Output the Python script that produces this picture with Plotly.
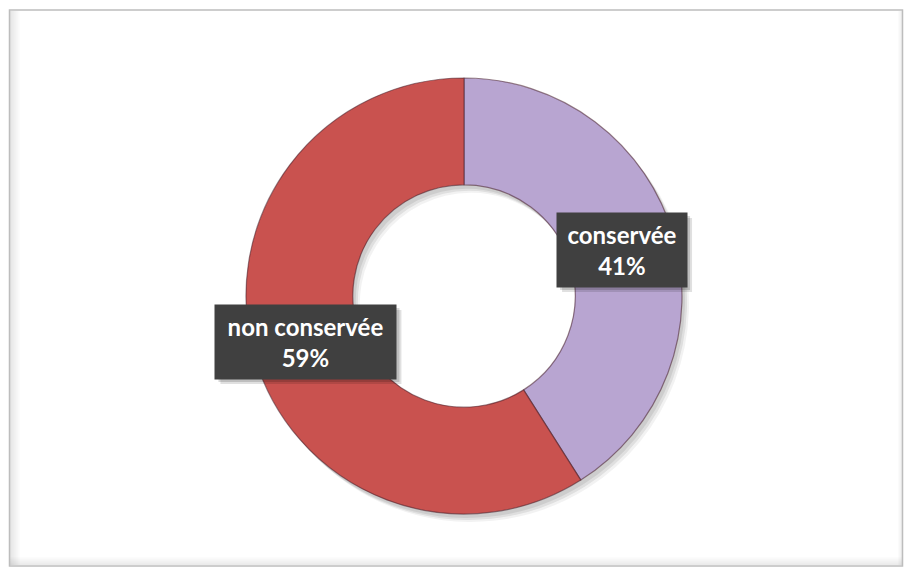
import math
import plotly.graph_objects as go

# Data
labels = ["conservée", "non conservée"]
values = [41, 59]
colors = ["#B8A5D1", "#C9524F"]

W, H = 904, 569
cx, cy, R = 464, 296, 218          # donut centre / outer radius in pixels
hole = 0.51

def px_x(x):
    return x / W

def px_y(y):
    return 1 - y / H

dom_x = [px_x(cx - R), px_x(cx + R)]
dom_y = [px_y(cy + R), px_y(cy - R)]

fig = go.Figure()

# soft drop shadow beneath the ring
for (sx, sy, a) in [(7, 8, 0.05), (5, 6, 0.08), (3, 4, 0.08)]:
    fig.add_trace(go.Pie(
        values=values, labels=labels, sort=False, direction="clockwise", rotation=0,
        hole=hole, marker=dict(colors=[f"rgba(0,0,0,{a})"] * 2, line=dict(width=0)),
        textinfo="none", hoverinfo="skip", showlegend=False,
        domain=dict(x=[px_x(cx - R + sx), px_x(cx + R + sx)],
                    y=[px_y(cy + R + sy), px_y(cy - R + sy)]),
    ))

fig.add_trace(go.Pie(
    values=values, labels=labels, sort=False, direction="clockwise", rotation=0,
    hole=hole, marker=dict(colors=colors, line=dict(color="rgba(70,30,40,0.55)", width=1.2)),
    textinfo="none", showlegend=False,
    domain=dict(x=dom_x, y=dom_y),
))

# data labels in dark boxes at the middle of each ring segment
box_w = {"conservée": 114, "non conservée": 165}
box_h = 58
pad = 8
total = sum(values)
rm = R * (1 + hole) / 2
annotations = []
shapes = []
cum = 0
for lab, v in zip(labels, values):
    mid = (cum + v / 2) / total * 2 * math.pi
    cum += v
    ax = cx + rm * math.sin(mid)
    ay = cy - rm * math.cos(mid)
    bw = box_w[lab] + 2 * pad
    bh = box_h + 2 * pad
    # box shadow
    for off, a in [(5, 0.12), (3, 0.15)]:
        shapes.append(dict(type="rect", xref="paper", yref="paper", layer="above",
                           x0=px_x(ax - bw / 2 + off), x1=px_x(ax + bw / 2 + off),
                           y0=px_y(ay + bh / 2 + off), y1=px_y(ay - bh / 2 + off),
                           line=dict(width=0), fillcolor=f"rgba(0,0,0,{a})"))
    txt = f"<b>{lab}</b><br><b>{round(v / total * 100)}%</b>"
    annotations.append(dict(text=txt, x=px_x(ax), y=px_y(ay), xref="paper", yref="paper",
                            showarrow=False, borderpad=pad, align="center", valign="middle",
                            width=box_w[lab], height=box_h,
                            xanchor="center", yanchor="middle",
                            font=dict(family="Lato", size=24, color="white"),
                            bgcolor="#404040"))

# chart frame with inner shading
for i in range(10):
    a = 0.10 * (1 - i / 10)
    shapes.append(dict(type="rect", xref="paper", yref="paper", layer="below",
                       x0=px_x(10 + i), x1=px_x(11 + i), y0=px_y(565), y1=px_y(11),
                       line=dict(width=0), fillcolor=f"rgba(0,0,0,{a:.3f})"))
for i in range(8):
    a = 0.08 * (1 - i / 8)
    shapes.append(dict(type="rect", xref="paper", yref="paper", layer="below",
                       x0=px_x(10), x1=px_x(902), y0=px_y(565 - i), y1=px_y(564 - i),
                       line=dict(width=0), fillcolor=f"rgba(0,0,0,{a:.3f})"))
for i in range(4):
    a = 0.06 * (1 - i / 4)
    shapes.append(dict(type="rect", xref="paper", yref="paper", layer="below",
                       x0=px_x(901 - i), x1=px_x(902 - i), y0=px_y(565), y1=px_y(11),
                       line=dict(width=0), fillcolor=f"rgba(0,0,0,{a:.3f})"))
shapes.append(dict(type="rect", xref="paper", yref="paper", layer="below",
                   x0=px_x(9.5), x1=px_x(902.5), y0=px_y(566), y1=px_y(10),
                   line=dict(color="#BDBDBD", width=1.5), fillcolor="rgba(0,0,0,0)"))

fig.update_layout(
    width=W, height=H, margin=dict(l=0, r=0, t=0, b=0),
    paper_bgcolor="white", plot_bgcolor="white",
    annotations=annotations, shapes=shapes,
)

fig.write_html("out.html")
